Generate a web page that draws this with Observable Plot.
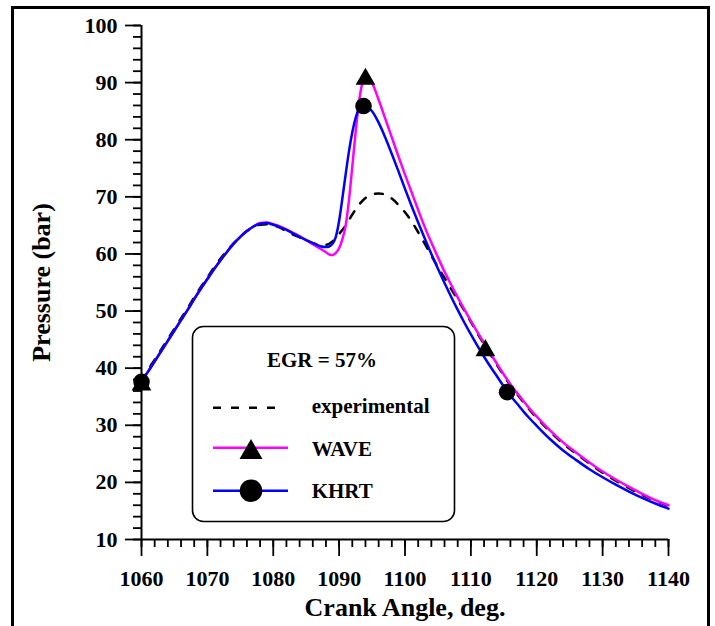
<!DOCTYPE html>
<html>
<head>
<meta charset="utf-8">
<script src="https://cdn.jsdelivr.net/npm/d3@7"></script>
<script src="https://cdn.jsdelivr.net/npm/@observablehq/plot@0.6"></script>
<style>
  html, body { margin: 0; padding: 0; background: white; overflow: hidden; }
  #wrap { position: relative; width: 715px; height: 626px; }
  #wrap svg, #wrap svg text { font-family: "Liberation Serif", "Times New Roman", Times, serif !important; font-weight: bold; }
  #frame { position: absolute; left: 11px; top: 6px; width: 693px; height: 660px;
           border: 3px solid black; border-bottom: none; pointer-events: none; }
  #legend { position: absolute; left: 191px; top: 325px; }
</style>
</head>
<body>
<div id="wrap"><div id="frame"></div></div>
<script>
// ---- data ----
const xTicks = [1060, 1070, 1080, 1090, 1100, 1110, 1120, 1130, 1140];
const yTicks = [10, 20, 30, 40, 50, 60, 70, 80, 90, 100];
const xMinor = d3.range(1060, 1141, 2);
const yMinor = d3.range(10, 101, 2);

const expAngle = [1060,1061,1062,1063,1064,1065,1066,1067,1068,1069,1070,1071,1072,1073,1074,1075,1076,1077,1078,1079,1080,1081,1082,1083,1084,1085,1086,1087,1088,1089,1090,1091,1092,1093,1094,1095,1096,1097,1098,1099,1100,1101,1102,1103,1104,1105,1106,1107,1108,1109,1110,1111,1112,1113,1114,1115,1116,1117,1118,1119,1120,1122,1124,1126,1128,1130,1132,1134,1136,1138,1140];
const expP =     [37.6,39.7,41.5,43.3,45.1,46.9,48.7,50.5,52.4,54.2,55.9,57.6,59.2,60.6,61.9,63.0,64.0,64.7,65.1,65.2,65.0,64.6,64.0,63.4,62.9,62.4,61.9,61.6,61.6,62.2,63.5,65.0,66.9,68.6,69.8,70.4,70.6,70.4,69.7,68.6,67.3,65.7,63.8,61.8,59.7,57.7,55.8,53.9,52.0,50.1,48.1,46.1,44.2,42.3,40.5,38.7,37.0,35.5,34.0,32.6,31.3,28.9,26.8,25.0,23.3,21.7,20.3,19.0,17.8,16.8,15.9];

const waveAngle = [1060,1061,1062,1063,1064,1065,1066,1067,1068,1069,1070,1071,1072,1073,1074,1075,1076,1077,1078,1079,1080,1081,1082,1083,1084,1085,1086,1087,1088,1088.5,1089,1089.5,1090,1090.5,1091,1091.5,1092,1092.5,1093,1093.5,1094,1094.5,1095,1096,1097,1098,1099,1100,1101,1102,1103,1104,1105,1106,1107,1108,1109,1110,1111,1112,1113,1114,1115,1116,1117,1118,1119,1120,1122,1124,1126,1128,1130,1132,1134,1136,1138,1140];
const waveP =     [37.7,39.4,41.2,43.0,44.8,46.6,48.4,50.2,52.1,53.9,55.6,57.3,58.9,60.4,61.8,63.0,64.0,64.8,65.4,65.5,65.2,64.8,64.3,63.7,63.1,62.4,61.7,61.0,60.3,59.9,59.8,60.2,61.0,62.6,65.0,69.5,75.3,81.3,86.5,89.8,91.0,90.6,89.9,87.0,83.7,80.4,77.1,73.9,70.8,67.7,64.7,62.0,59.4,56.9,54.6,52.4,50.3,48.3,46.3,44.4,42.5,40.7,38.9,37.2,35.7,34.2,32.8,31.5,29.1,27.0,25.2,23.5,21.9,20.5,19.2,18.0,16.9,16.0];

const khrtAngle = [1060,1061,1062,1063,1064,1065,1066,1067,1068,1069,1070,1071,1072,1073,1074,1075,1076,1077,1078,1079,1080,1081,1082,1083,1084,1085,1086,1087,1088,1088.5,1089,1089.5,1090,1090.5,1091,1091.5,1092,1092.5,1093,1093.6,1094,1095,1096,1097,1098,1099,1100,1101,1102,1103,1104,1105,1106,1107,1108,1109,1110,1111,1112,1113,1114,1115,1116,1117,1118,1119,1120,1122,1124,1126,1128,1130,1132,1134,1136,1138,1140];
const khrtP =     [37.7,39.4,41.2,43.0,44.8,46.6,48.4,50.2,52.1,53.9,55.6,57.3,58.9,60.4,61.8,63.0,64.0,64.8,65.3,65.4,65.1,64.7,64.2,63.6,63.0,62.4,61.9,61.4,61.2,61.3,61.8,63.0,65.8,69.8,74.0,78.0,81.3,83.8,85.4,86.1,86.0,85.0,83.0,80.4,77.5,74.5,71.4,68.4,65.5,62.7,60.0,57.4,54.9,52.5,50.2,48.0,45.9,43.9,42.0,40.2,38.5,36.8,35.2,33.8,32.4,31.1,29.9,27.6,25.6,23.9,22.3,20.9,19.6,18.4,17.3,16.3,15.4];

// symbol markers as drawn on the curves
const waveMarkAngle = [1060, 1094, 1112.2];
const waveMarkP     = [37.1, 90.6, 43.1];
const khrtMarkAngle = [1060, 1093.7, 1115.5];
const khrtMarkP     = [37.6, 85.9, 35.8];

const legendTitle = "EGR = 57%";
const seriesNames = ["experimental", "WAVE", "KHRT"];
const colors = {exp: "black", wave: "#ff00ff", khrt: "#0000ff"};

const zip = (xs, ys) => xs.map((x, i) => ({x, y: ys[i]}));
const exp = zip(expAngle, expP);
const wave = zip(waveAngle, waveP);
const khrt = zip(khrtAngle, khrtP);
const waveM = zip(waveMarkAngle, waveMarkP);
const khrtM = zip(khrtMarkAngle, khrtMarkP);

const xDom = [xTicks[0], xTicks[xTicks.length - 1]];
const yDom = [yTicks[0], yTicks[yTicks.length - 1]];
const SERIF = '"Liberation Serif", "Times New Roman", Times, serif';

const chart = Plot.plot({
  width: 715, height: 626,
  marginLeft: 141, marginRight: 47, marginTop: 25, marginBottom: 87,
  style: {background: "transparent", fontFamily: SERIF, fontWeight: "bold", color: "black"},
  x: {domain: xDom},
  y: {domain: yDom},
  marks: [
    Plot.axisY({ticks: yMinor, tickSize: 8, tickFormat: () => "", strokeWidth: 1.8, label: null}),
    Plot.axisY({ticks: yTicks, tickSize: 16, tickPadding: 8, strokeWidth: 1.8, fontSize: 22, fontWeight: "bold", fontFamily: SERIF, label: null}),
    Plot.axisX({ticks: xMinor, tickSize: 8, tickFormat: () => "", strokeWidth: 1.8, label: null}),
    Plot.axisX({ticks: xTicks, tickSize: 17, tickPadding: 14, strokeWidth: 1.8, fontSize: 22, fontWeight: "bold", fontFamily: SERIF, tickFormat: d => String(d), label: null}),
    Plot.ruleX([xDom[0]], {y1: yDom[0], y2: yDom[1], strokeWidth: 2}),
    Plot.ruleY([yDom[0]], {x1: xDom[0], x2: xDom[1], strokeWidth: 2}),
    Plot.text(["Crank Angle, deg."], {frameAnchor: "bottom", lineAnchor: "middle", dy: 68, fontSize: 26, fontWeight: "bold", fontFamily: SERIF}),
    Plot.text(["Pressure (bar)"], {frameAnchor: "left", textAnchor: "middle", lineAnchor: "middle", dx: -100, rotate: -90, fontSize: 26, fontWeight: "bold", fontFamily: SERIF}),
    Plot.line(exp, {x: "x", y: "y", stroke: colors.exp, strokeWidth: 2.5, strokeDasharray: "8,10", curve: "monotone-x"}),
    Plot.line(wave, {x: "x", y: "y", stroke: colors.wave, strokeWidth: 2.5, curve: "monotone-x"}),
    Plot.line(khrt, {x: "x", y: "y", stroke: colors.khrt, strokeWidth: 2.5, curve: "monotone-x"}),
    Plot.dot(waveM, {x: "x", y: "y", symbol: "triangle", r: 7.3, fill: "black", stroke: "none"}),
    Plot.dot(khrtM, {x: "x", y: "y", symbol: "circle", r: 8.3, fill: "black", stroke: "none"})
  ]
});
const wrap = document.getElementById("wrap");
wrap.insertBefore(chart, wrap.firstChild);
chart.style.position = "absolute";
chart.style.left = "0px";
chart.style.top = "0px";

// legend
const lg = d3.create("svg").attr("id", "legend").attr("width", 266).attr("height", 199)
  .style("font-family", SERIF).style("font-weight", "bold");
lg.append("rect").attr("x", 1.5).attr("y", 1.5).attr("width", 262).attr("height", 195)
  .attr("rx", 11).attr("fill", "white").attr("stroke", "black").attr("stroke-width", 1.6);
lg.append("text").attr("x", 131).attr("y", 42).attr("text-anchor", "middle")
  .attr("font-size", 21).text(legendTitle);
const rows = [
  {name: seriesNames[0], ly: 82.7, ty: 88, stroke: colors.exp, dash: "8,10", x2: 89},
  {name: seriesNames[1], ly: 122.7, ty: 131, stroke: colors.wave, dash: null, x2: 97, sym: d3.symbolTriangle, size: 229, sy: 127.3},
  {name: seriesNames[2], ly: 165.7, ty: 173.3, stroke: colors.khrt, dash: null, x2: 97, sym: d3.symbolCircle, size: Math.PI * 11.3 * 11.3, sy: 165.7}
];
for (const r of rows) {
  lg.append("line").attr("x1", 22).attr("x2", r.x2).attr("y1", r.ly).attr("y2", r.ly)
    .attr("stroke", r.stroke).attr("stroke-width", 2.5).attr("stroke-dasharray", r.dash);
  if (r.sym) lg.append("path").attr("d", d3.symbol(r.sym, r.size)())
    .attr("transform", `translate(60,${r.sy})`).attr("fill", "black");
  lg.append("text").attr("x", 120.7).attr("y", r.ty).attr("font-size", 21).text(r.name);
}
wrap.appendChild(lg.node());
</script>
</body>
</html>
